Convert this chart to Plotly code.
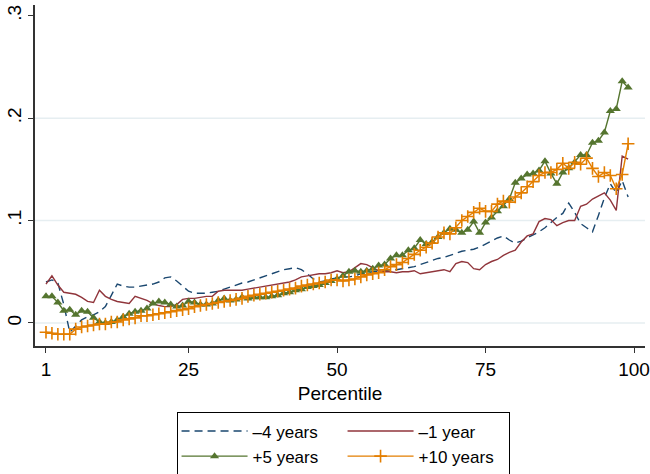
import plotly.graph_objects as go

# Percentiles 1..99
percentile = list(range(1, 100))

minus4 = [0.040, 0.042, 0.039, 0.018, -0.009, -0.003, 0.003, 0.006, 0.008, 0.011,
          0.016, 0.027, 0.038, 0.036, 0.035, 0.035, 0.036, 0.037, 0.038, 0.040,
          0.044, 0.045, 0.041, 0.036, 0.031, 0.029, 0.029, 0.029, 0.030, 0.031,
          0.033, 0.035, 0.037, 0.039, 0.040, 0.042, 0.044, 0.046, 0.048, 0.050,
          0.052, 0.053, 0.054, 0.052, 0.048, 0.043, 0.040, 0.041, 0.043, 0.044,
          0.045, 0.045, 0.046, 0.048, 0.049, 0.050, 0.050, 0.051, 0.052, 0.052,
          0.053, 0.054, 0.055, 0.057, 0.059, 0.061, 0.063, 0.064, 0.066, 0.068,
          0.070, 0.071, 0.072, 0.074, 0.077, 0.080, 0.083, 0.085, 0.081, 0.078,
          0.080, 0.083, 0.086, 0.089, 0.093, 0.098, 0.103, 0.107, 0.117, 0.108,
          0.097, 0.093, 0.089, 0.105, 0.122, 0.136, 0.127, 0.139, 0.123]

minus1 = [0.038, 0.046, 0.037, 0.030, 0.029, 0.028, 0.025, 0.021, 0.020, 0.032,
          0.026, 0.023, 0.021, 0.020, 0.019, 0.026, 0.024, 0.022, 0.019, 0.017,
          0.016, 0.016, 0.018, 0.023, 0.024, 0.024, 0.025, 0.026, 0.026, 0.031,
          0.032, 0.032, 0.032, 0.032, 0.033, 0.034, 0.035, 0.036, 0.037, 0.038,
          0.039, 0.040, 0.042, 0.045, 0.046, 0.047, 0.048, 0.048, 0.049, 0.051,
          0.049, 0.050, 0.054, 0.058, 0.057, 0.054, 0.051, 0.050, 0.050, 0.049,
          0.050, 0.050, 0.051, 0.048, 0.049, 0.050, 0.051, 0.052, 0.050, 0.058,
          0.060, 0.059, 0.053, 0.052, 0.057, 0.060, 0.062, 0.066, 0.069, 0.071,
          0.079, 0.085, 0.087, 0.099, 0.102, 0.101, 0.095, 0.098, 0.100, 0.100,
          0.114, 0.116, 0.121, 0.124, 0.127, 0.120, 0.110, 0.163, 0.160]

plus5 = [0.026, 0.026, 0.020, 0.012, 0.013, 0.008, 0.012, 0.011, 0.005, 0.001,
         0.000, 0.001, 0.003, 0.006, 0.009, 0.011, 0.012, 0.014, 0.019, 0.021,
         0.020, 0.018, 0.016, 0.017, 0.021, 0.020, 0.018, 0.018, 0.019, 0.022,
         0.024, 0.022, 0.023, 0.025, 0.024, 0.025, 0.025, 0.025, 0.026, 0.027,
         0.029, 0.030, 0.032, 0.033, 0.035, 0.036, 0.037, 0.039, 0.041, 0.043,
         0.046, 0.050, 0.051, 0.050, 0.051, 0.053, 0.056, 0.057, 0.063, 0.066,
         0.066, 0.071, 0.073, 0.081, 0.077, 0.079, 0.084, 0.088, 0.092, 0.091,
         0.088, 0.091, 0.099, 0.088, 0.098, 0.103, 0.109, 0.114, 0.121, 0.137,
         0.141, 0.145, 0.146, 0.149, 0.158, 0.146, 0.136, 0.147, 0.151, 0.157,
         0.164, 0.164, 0.176, 0.178, 0.186, 0.207, 0.209, 0.236, 0.230]

plus10 = [-0.009, -0.010, -0.011, -0.011, -0.011, -0.006, -0.004, -0.003, -0.002, -0.001,
          -0.001, 0.001, 0.001, 0.003, 0.004, 0.005, 0.007, 0.007, 0.008, 0.009,
          0.010, 0.011, 0.012, 0.013, 0.014, 0.016, 0.017, 0.018, 0.019, 0.020,
          0.021, 0.022, 0.023, 0.024, 0.026, 0.027, 0.028, 0.029, 0.030, 0.031,
          0.032, 0.033, 0.034, 0.036, 0.037, 0.038, 0.039, 0.040, 0.042, 0.042,
          0.041, 0.042, 0.043, 0.045, 0.047, 0.048, 0.049, 0.052, 0.055, 0.057,
          0.059, 0.063, 0.067, 0.071, 0.074, 0.078, 0.084, 0.088, 0.087, 0.093,
          0.100, 0.104, 0.108, 0.112, 0.109, 0.109, 0.116, 0.119, 0.118, 0.123,
          0.127, 0.133, 0.138, 0.144, 0.147, 0.147, 0.150, 0.156, 0.151, 0.157,
          0.155, 0.161, 0.151, 0.143, 0.147, 0.144, 0.131, 0.145, 0.175]

x_ticks = [1, 25, 50, 75, 100]
y_ticks = [0, 0.1, 0.2, 0.3]
y_ticktext = ["0", ".1", ".2", ".3"]
grid_levels = [0, 0.1, 0.2]

NAVY = "#1a476f"
MAROON = "#90353b"
GREEN = "#55752f"
ORANGE = "#e37e00"
FONT = "Liberation Sans, Arial, sans-serif"
FS = 19
LEG_FS = 17

fig = go.Figure()

fig.add_trace(go.Scatter(
    x=percentile, y=minus4, name="\u20134 years", mode="lines",
    line=dict(color=NAVY, width=1.4, dash="8px,5px"),
    legendgroup="a"))
fig.add_trace(go.Scatter(
    x=percentile, y=minus1, name="\u20131 year", mode="lines",
    line=dict(color=MAROON, width=1.4),
    legendgroup="b"))
fig.add_trace(go.Scatter(
    x=percentile, y=plus5, name="+5 years", mode="lines+markers",
    line=dict(color=GREEN, width=1.4),
    marker=dict(symbol="triangle-up", size=8, color=GREEN),
    legendgroup="a"))
fig.add_trace(go.Scatter(
    x=percentile, y=plus10, name="+10 years", mode="lines+markers",
    line=dict(color=ORANGE, width=1.4),
    marker=dict(symbol="cross-thin", size=9, color=ORANGE,
                line=dict(color=ORANGE, width=1.6)),
    legendgroup="b"))

# light horizontal grid
for g in grid_levels:
    fig.add_shape(type="line", xref="paper", x0=0, x1=1, yref="y", y0=g, y1=g,
                  line=dict(color="#e6eef1", width=1.5), layer="below")

fig.update_layout(
    width=650, height=474,
    margin=dict(l=35, r=5, t=5, b=128, autoexpand=False),
    paper_bgcolor="white", plot_bgcolor="white",
    font=dict(family=FONT, size=FS, color="#000"),
    showlegend=True,
    legend=dict(
        orientation="h", x=0.505, xanchor="center", y=-0.195, yanchor="top",
        bordercolor="#000", borderwidth=1, bgcolor="white",
        itemwidth=66, entrywidth=85, entrywidthmode="pixels",
        font=dict(family=FONT, size=LEG_FS, color="#000"),
    ),
)

fig.update_xaxes(
    range=[-0.85, 101.84], tickvals=x_ticks, ticks="outside", ticklen=5,
    tickwidth=1.3, tickcolor="#333", showline=True, linecolor="#333", linewidth=1.6,
    showgrid=False, zeroline=False,
    title=dict(text="Percentile", standoff=8, font=dict(size=FS)),
    tickfont=dict(size=FS),
)
fig.update_yaxes(
    range=[-0.0225, 0.3105], tickvals=y_ticks, ticktext=y_ticktext, tickangle=-90,
    ticks="outside", ticklen=5, tickwidth=1.3, tickcolor="#333",
    showline=True, linecolor="#333", linewidth=1.6,
    showgrid=False, zeroline=False, tickfont=dict(size=FS),
)

fig.write_html("out.html")
